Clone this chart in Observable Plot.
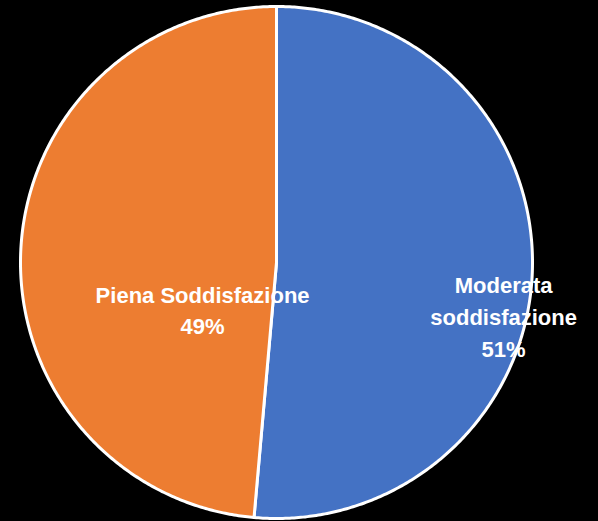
<!DOCTYPE html>
<html><head><meta charset="utf-8">
<script src="https://cdn.jsdelivr.net/npm/d3@7"></script>
<script src="https://cdn.jsdelivr.net/npm/@observablehq/plot@0.6"></script>
<style>html,body{margin:0;padding:0;background:#000;overflow:hidden;}</style>
</head>
<body><div id="chart"></div>
<script>
const categories = ["Moderata soddisfazione", "Piena Soddisfazione"];
const values = [51.4, 48.6];
const labels = ["Moderata\nsoddisfazione\n51%", "Piena Soddisfazione\n49%"];
const colors = ["#4472C4", "#ED7D31"];

// label layout (fraction of radius along mid-angle, and pixel shift)
const labelRadius = [0.888, 0.289];
const labelDy = [42, 49];

const rows = categories.map((c, i) => ({name: c, value: values[i], label: labels[i], i}));
const arcs = d3.pie().sort(null).value(d => d.value)(rows);
const pt = (a, r = 1) => [r * Math.sin(a), -r * Math.cos(a)];

const slices = arcs.map(p => {
  const n = Math.max(2, Math.ceil((p.endAngle - p.startAngle) / (Math.PI / 360)));
  const ring = [[0, 0]];
  for (let k = 0; k <= n; k++) ring.push(pt(p.startAngle + (p.endAngle - p.startAngle) * k / n));
  ring.push([0, 0]);
  return {type: "Feature", properties: {name: p.data.name, color: colors[p.data.i]}, geometry: {type: "Polygon", coordinates: [ring]}};
});

const outline = {type: "Feature", properties: {}, geometry: {type: "Polygon", coordinates: [d3.range(0, 361).map(d => pt(d * Math.PI / 180))]}};

const labelData = arcs.map(p => {
  const mid = (p.startAngle + p.endAngle) / 2;
  const [lx, ly] = pt(mid, labelRadius[p.data.i]);
  return {lx, ly, label: p.data.label, dy: labelDy[p.data.i]};
});

const chart = Plot.plot({
  width: 598,
  height: 521,
  marginLeft: 20,
  marginRight: 66,
  marginTop: 6,
  marginBottom: 3,
  style: {background: "#000", fontFamily: "'Liberation Sans', Arial, sans-serif"},
  projection: {type: "identity", domain: outline},
  marks: [
    Plot.geo(slices, {fill: d => d.properties.color, stroke: "#fff", strokeWidth: 3, strokeLinejoin: "round"}),
    ...labelData.map(d => Plot.text([d], {x: "lx", y: "ly", text: "label", dy: d.dy, fill: "#fff", fontSize: 22, fontWeight: "bold", lineHeight: 1.45, textAnchor: "middle"}))
  ]
});
document.getElementById("chart").append(chart);
</script>
</body></html>
